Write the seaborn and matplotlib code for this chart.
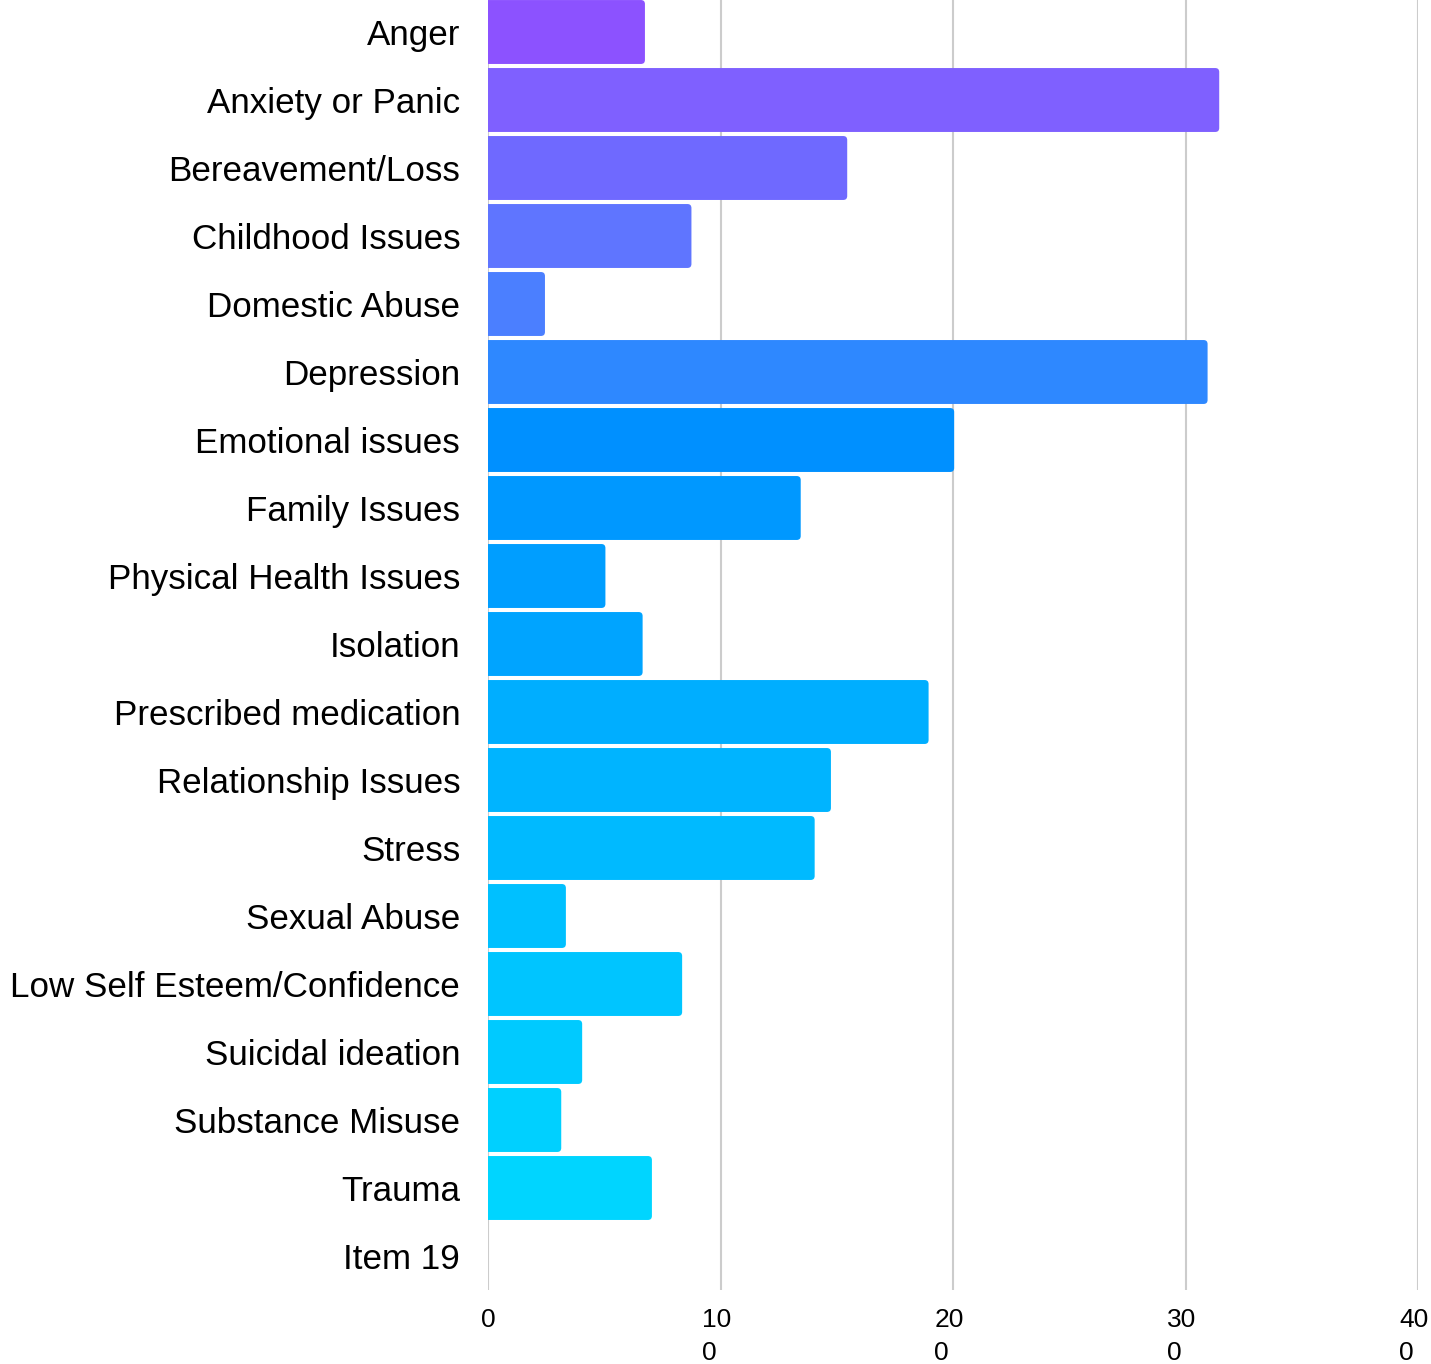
import matplotlib
matplotlib.use("Agg")
import matplotlib.pyplot as plt
from matplotlib.patches import FancyBboxPatch
from matplotlib.transforms import ScaledTranslation
import seaborn as sns
import pandas as pd

categories = ["Anger", "Anxiety or Panic", "Bereavement/Loss", "Childhood Issues",
              "Domestic Abuse", "Depression", "Emotional issues", "Family Issues",
              "Physical Health Issues", "Isolation", "Prescribed medication",
              "Relationship Issues", "Stress", "Sexual Abuse",
              "Low Self Esteem/Confidence", "Suicidal ideation", "Substance Misuse",
              "Trauma", "Item 19"]
values = [67.5, 314.5, 154.5, 87.5, 24.5, 309.5, 200.5, 134.5, 50.5, 66.5,
          189.5, 147.5, 140.5, 33.5, 83.5, 40.5, 31.5, 70.5, 0]
colors = ["#8C52FF", "#7F60FF", "#6F69FF", "#5F75FF", "#4B7FFF", "#2E88FF",
          "#0090FF", "#0098FF", "#009EFF", "#00A4FF", "#00AEFF", "#00B4FF",
          "#00BAFF", "#00C0FF", "#00C5FF", "#00CAFF", "#00D0FF", "#00D5FF",
          "#00D8FF"]
xticks = [0, 100, 200, 300, 400]
xticklabels = ["0", "10\n0", "20\n0", "30\n0", "40\n0"]

sns.set_theme(style="white")
plt.rcParams["font.family"] = ["Liberation Sans", "DejaVu Sans"]

df = pd.DataFrame({"category": categories, "value": values})

fig = plt.figure(figsize=(14.31, 13.64), dpi=100)
ax_w_px, ax_h_px = 930, 1292
ax = fig.add_axes([488 / 1431, (1364 - 1290) / 1364, ax_w_px / 1431, ax_h_px / 1364])

sns.barplot(data=df, x="value", y="category", hue="category", palette=colors,
            order=categories, hue_order=categories, orient="h", width=0.94,
            legend=False, ax=ax, saturation=1, linewidth=0)

ax.set_xlim(0, 400)
ax.set_ylim(18.5, -0.5)

# rounded right-hand corners (radius ~4 px)
x_per_px = 400 / ax_w_px
y_per_px = 19 / ax_h_px
r_x = 4 * x_per_px
aspect = y_per_px / x_per_px
for p in list(ax.patches):
    x0, y0, w, h = p.get_x(), p.get_y(), p.get_width(), p.get_height()
    if w <= 0:
        p.remove()
        continue
    fb = FancyBboxPatch((x0 - 3 * r_x, y0), w + 3 * r_x, h,
                        boxstyle=f"round,pad=0,rounding_size={r_x}",
                        mutation_aspect=aspect, facecolor=p.get_facecolor(),
                        edgecolor="none", linewidth=0, zorder=p.get_zorder())
    p.remove()
    ax.add_patch(fb)

ax.set_xticks(xticks)
ax.set_xticklabels(xticklabels, fontsize=19, multialignment="left", linespacing=1.45)
ax.tick_params(axis="x", length=0, pad=13, colors="#000000")
ax.tick_params(axis="y", length=0, pad=20, labelsize=25.2, colors="#000000")
shift = ScaledTranslation(-4 / 100, 0, fig.dpi_scale_trans)
for lbl in ax.get_xticklabels()[1:]:
    lbl.set_transform(lbl.get_transform() + shift)
ax.set_xlabel("")
ax.set_ylabel("")
for s in ax.spines.values():
    s.set_visible(False)
for xv in xticks:
    ax.axvline(xv, color="#CCCCCC", linewidth=1.5, zorder=0)
ax.set_axisbelow(True)

fig.savefig("out.png", dpi=100, facecolor="white")
